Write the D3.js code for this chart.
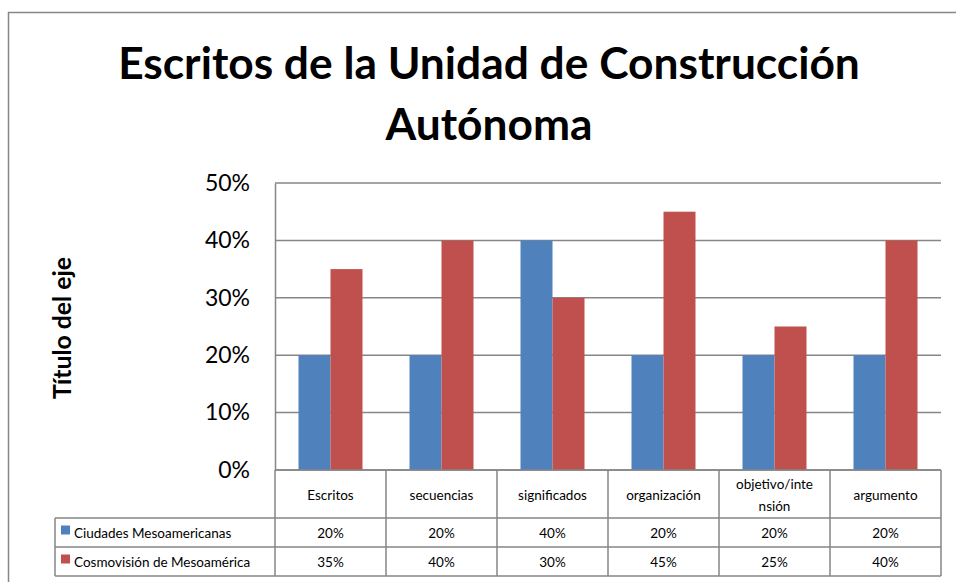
<!DOCTYPE html>
<html>
<head>
<meta charset="utf-8">
<script src="https://cdn.jsdelivr.net/npm/d3@7"></script>
<style>
  body { margin: 0; background: #fff; }
  text { font-family: Lato, "Open Sans", sans-serif; fill: #000; }
</style>
</head>
<body>
<svg width="956" height="582"></svg>
<script>
var categories = ["Escritos", "secuencias", "significados", "organización", ["objetivo/inte", "nsión"], "argumento"];
var seriesNames = ["Ciudades Mesoamericanas", "Cosmovisión de Mesoamérica"];
var ciudades = [0.20, 0.20, 0.40, 0.20, 0.20, 0.20];
var cosmovision = [0.35, 0.40, 0.30, 0.45, 0.25, 0.40];
var yTicks = [0, 0.1, 0.2, 0.3, 0.4, 0.5];
var colors = ["#4f81bd", "#c0504d"];

var svg = d3.select("svg");
var GRID = "#868686";

// shrink/grow a text's font so its width hits the reference width
function fitWidth (sel, size, target) {
  sel.style("font-size", size + "px");
  var w = sel.node().getComputedTextLength();
  sel.style("font-size", (size * target / w) + "px");
}

// chart frame
svg.append("rect")
  .attr("x", 8.5).attr("y", 12.5)
  .attr("width", 960).attr("height", 600)
  .attr("fill", "none").attr("stroke", GRID).attr("stroke-width", 1.5);

// title, two lines
var title = svg.append("text")
  .attr("text-anchor", "middle")
  .style("font-weight", "bold");
title.append("tspan").attr("x", 489).attr("y", 79).text("Escritos de la Unidad de Construcción");
title.append("tspan").attr("x", 489).attr("y", 140).text("Autónoma");
title.style("font-size", "42px");
var w = title.select("tspan").node().getComputedTextLength();
title.style("font-size", (42 * 742 / w) + "px");

var plotLeft = 275, plotRight = 941, plotTop = 183, plotBottom = 470;

var x = d3.scaleBand().domain(d3.range(categories.length)).range([plotLeft, plotRight]);
var y = d3.scaleLinear().domain([0, 0.5]).range([plotBottom, plotTop]);

// gridlines
svg.append("g").selectAll("line").data(yTicks).join("line")
  .attr("x1", plotLeft).attr("x2", plotRight)
  .attr("y1", function(d) { return y(d); }).attr("y2", function(d) { return y(d); })
  .attr("stroke", GRID).attr("stroke-width", 1.5);

// y axis
var yAxis = svg.append("g")
  .attr("transform", "translate(" + plotLeft + ",0)")
  .call(d3.axisLeft(y).tickValues(yTicks).tickFormat(d3.format(".0%")).tickSize(0).tickPadding(25));
yAxis.select(".domain").attr("stroke", GRID).attr("stroke-width", 1.5);
yAxis.selectAll("text")
  .attr("fill", "#000")
  .style("font-size", "23px")
  .style("font-family", "Lato, sans-serif");

var yTitle = svg.append("text")
  .attr("transform", "translate(71,328) rotate(-90)")
  .attr("text-anchor", "middle")
  .style("font-weight", "bold")
  .text("Título del eje");
fitWidth(yTitle, 20, 142);

// bars
var bw = 32;
var series = [ciudades, cosmovision];
series.forEach(function(vals, s) {
  svg.append("g").selectAll("rect").data(vals).join("rect")
    .attr("x", function(d, i) { return x(i) + x.bandwidth() / 2 - bw + s * bw; })
    .attr("width", bw)
    .attr("y", function(d) { return y(d); })
    .attr("height", function(d) { return plotBottom - y(d); })
    .attr("fill", colors[s]);
});

// data table
var tableLeft = 55;
var rows = [plotBottom, 518, 547, 576];
var tg = svg.append("g");
var stroke = function(sel) { return sel.attr("stroke", GRID).attr("stroke-width", 1.5); };

// horizontal lines
stroke(tg.append("line").attr("x1", plotLeft).attr("x2", plotRight).attr("y1", rows[0]).attr("y2", rows[0]));
rows.slice(1).forEach(function(r) {
  stroke(tg.append("line").attr("x1", tableLeft).attr("x2", plotRight).attr("y1", r).attr("y2", r));
});
// vertical lines
d3.range(categories.length + 1).forEach(function(i) {
  var xx = i < categories.length ? x(i) : plotRight;
  stroke(tg.append("line").attr("x1", xx).attr("x2", xx).attr("y1", rows[0]).attr("y2", rows[3]));
});
stroke(tg.append("line").attr("x1", tableLeft).attr("x2", tableLeft).attr("y1", rows[1]).attr("y2", rows[3]));

// category labels
categories.forEach(function(c, i) {
  var cx = x(i) + x.bandwidth() / 2;
  var t = tg.append("text").attr("text-anchor", "middle").style("font-size", "13.5px");
  if (Array.isArray(c)) {
    t.append("tspan").attr("x", cx).attr("y", 489).text(c[0]);
    t.append("tspan").attr("x", cx).attr("y", 511).text(c[1]);
  } else {
    t.attr("x", cx).attr("y", 500).text(c);
  }
});

// series rows
var fmt = d3.format(".0%");
series.forEach(function(vals, s) {
  var mid = (rows[s + 1] + rows[s + 2]) / 2;
  tg.append("rect")
    .attr("x", 61).attr("y", mid - 7).attr("width", 9).attr("height", 9)
    .attr("fill", colors[s]);
  tg.append("text")
    .attr("x", 74).attr("y", mid + 5)
    .style("font-size", "13.5px")
    .text(seriesNames[s]);
  vals.forEach(function(v, i) {
    tg.append("text")
      .attr("x", x(i) + x.bandwidth() / 2).attr("y", mid + 5)
      .attr("text-anchor", "middle")
      .style("font-size", "13.5px")
      .text(fmt(v));
  });
});
</script>
</body>
</html>
